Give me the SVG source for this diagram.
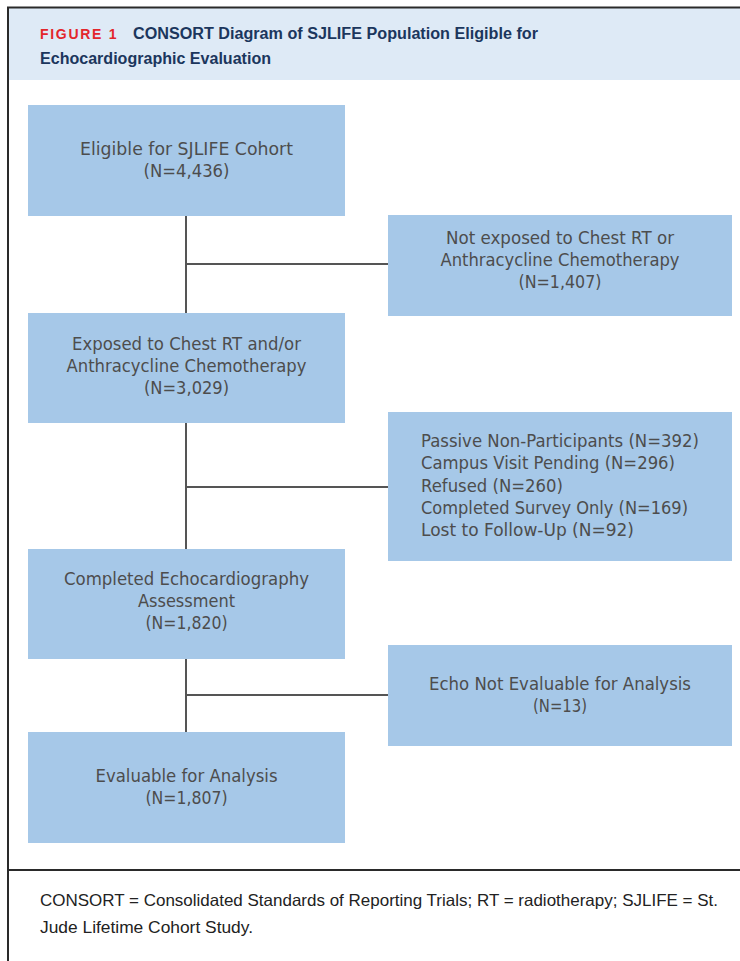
<svg xmlns="http://www.w3.org/2000/svg" width="740" height="961" viewBox="0 0 740 961">
<style>
.box{fill:#a6c8e8;}
.t{font-family:"DejaVu Sans","Liberation Sans",sans-serif;font-size:17.5px;fill:#4d4d4d;text-anchor:middle;}
.tl{font-family:"DejaVu Sans","Liberation Sans",sans-serif;font-size:17.5px;fill:#4d4d4d;}
.conn{stroke:#555;stroke-width:2;fill:none;}
.frame{stroke:#2a2a2a;stroke-width:2;fill:none;}
.fig{font-family:"Liberation Sans",sans-serif;font-size:14px;font-weight:bold;fill:#e3262c;letter-spacing:1.5px;}
.title{font-family:"Liberation Sans",sans-serif;font-size:16px;font-weight:bold;fill:#1b365d;}
.foot{font-family:"Liberation Sans",sans-serif;font-size:16.5px;fill:#222;}
</style>
<rect x="0" y="0" width="740" height="961" fill="#fff"/>
<g id="header">
<rect x="9" y="8" width="731" height="72" fill="#deeaf6"/>
<text class="fig" x="40" y="39" textLength="78">FIGURE 1</text>
<text class="title" x="133" y="39" textLength="405" lengthAdjust="spacingAndGlyphs">CONSORT Diagram of SJLIFE Population Eligible for</text>
<text class="title" x="40" y="64" textLength="231" lengthAdjust="spacingAndGlyphs">Echocardiographic Evaluation</text>
</g>
<g id="frame">
<path class="frame" d="M7 7.5H740M8 7V961M8 870H740"/>
</g>
<g id="connectors">
<path class="conn" d="M186 216V313M186 264H388"/>
<path class="conn" d="M186 423V549M186 487H388"/>
<path class="conn" d="M186 659V732M186 695H388"/>
</g>
<g id="n1">
<rect class="box" x="28" y="105" width="317" height="111"/>
<text class="t" x="186.5" y="155" textLength="213" lengthAdjust="spacingAndGlyphs">Eligible for SJLIFE Cohort</text>
<text class="t" x="186.5" y="177" textLength="86" lengthAdjust="spacingAndGlyphs">(N=4,436)</text>
</g>
<g id="n2">
<rect class="box" x="388" y="215" width="344" height="101"/>
<text class="t" x="560" y="244" textLength="228" lengthAdjust="spacingAndGlyphs">Not exposed to Chest RT or</text>
<text class="t" x="560" y="266" textLength="239" lengthAdjust="spacingAndGlyphs">Anthracycline Chemotherapy</text>
<text class="t" x="560" y="288" textLength="83" lengthAdjust="spacingAndGlyphs">(N=1,407)</text>
</g>
<g id="n3">
<rect class="box" x="28" y="313" width="317" height="110"/>
<text class="t" x="186.5" y="350" textLength="229" lengthAdjust="spacingAndGlyphs">Exposed to Chest RT and/or</text>
<text class="t" x="186.5" y="372" textLength="240" lengthAdjust="spacingAndGlyphs">Anthracycline Chemotherapy</text>
<text class="t" x="186.5" y="394" textLength="85" lengthAdjust="spacingAndGlyphs">(N=3,029)</text>
</g>
<g id="n4">
<rect class="box" x="388" y="412" width="344" height="149"/>
<text class="tl" x="421" y="447" textLength="278" lengthAdjust="spacingAndGlyphs">Passive Non-Participants (N=392)</text>
<text class="tl" x="421" y="469" textLength="254" lengthAdjust="spacingAndGlyphs">Campus Visit Pending (N=296)</text>
<text class="tl" x="421" y="492" textLength="142" lengthAdjust="spacingAndGlyphs">Refused (N=260)</text>
<text class="tl" x="421" y="514" textLength="267" lengthAdjust="spacingAndGlyphs">Completed Survey Only (N=169)</text>
<text class="tl" x="421" y="536" textLength="213" lengthAdjust="spacingAndGlyphs">Lost to Follow-Up (N=92)</text>
</g>
<g id="n5">
<rect class="box" x="28" y="549" width="317" height="110"/>
<text class="t" x="186.5" y="585" textLength="245" lengthAdjust="spacingAndGlyphs">Completed Echocardiography</text>
<text class="t" x="186.5" y="607" textLength="97" lengthAdjust="spacingAndGlyphs">Assessment</text>
<text class="t" x="186.5" y="629" textLength="82" lengthAdjust="spacingAndGlyphs">(N=1,820)</text>
</g>
<g id="n6">
<rect class="box" x="388" y="645" width="344" height="101"/>
<text class="t" x="560" y="690" textLength="262" lengthAdjust="spacingAndGlyphs">Echo Not Evaluable for Analysis</text>
<text class="t" x="560" y="712" textLength="54" lengthAdjust="spacingAndGlyphs">(N=13)</text>
</g>
<g id="n7">
<rect class="box" x="28" y="732" width="317" height="111"/>
<text class="t" x="186.5" y="782" textLength="182" lengthAdjust="spacingAndGlyphs">Evaluable for Analysis</text>
<text class="t" x="186.5" y="804" textLength="82" lengthAdjust="spacingAndGlyphs">(N=1,807)</text>
</g>
<g id="footer">
<text class="foot" x="40" y="906" textLength="678" lengthAdjust="spacingAndGlyphs">CONSORT = Consolidated Standards of Reporting Trials; RT = radiotherapy; SJLIFE = St.</text>
<text class="foot" x="40" y="933" textLength="213" lengthAdjust="spacingAndGlyphs">Jude Lifetime Cohort Study.</text>
</g>
</svg>
